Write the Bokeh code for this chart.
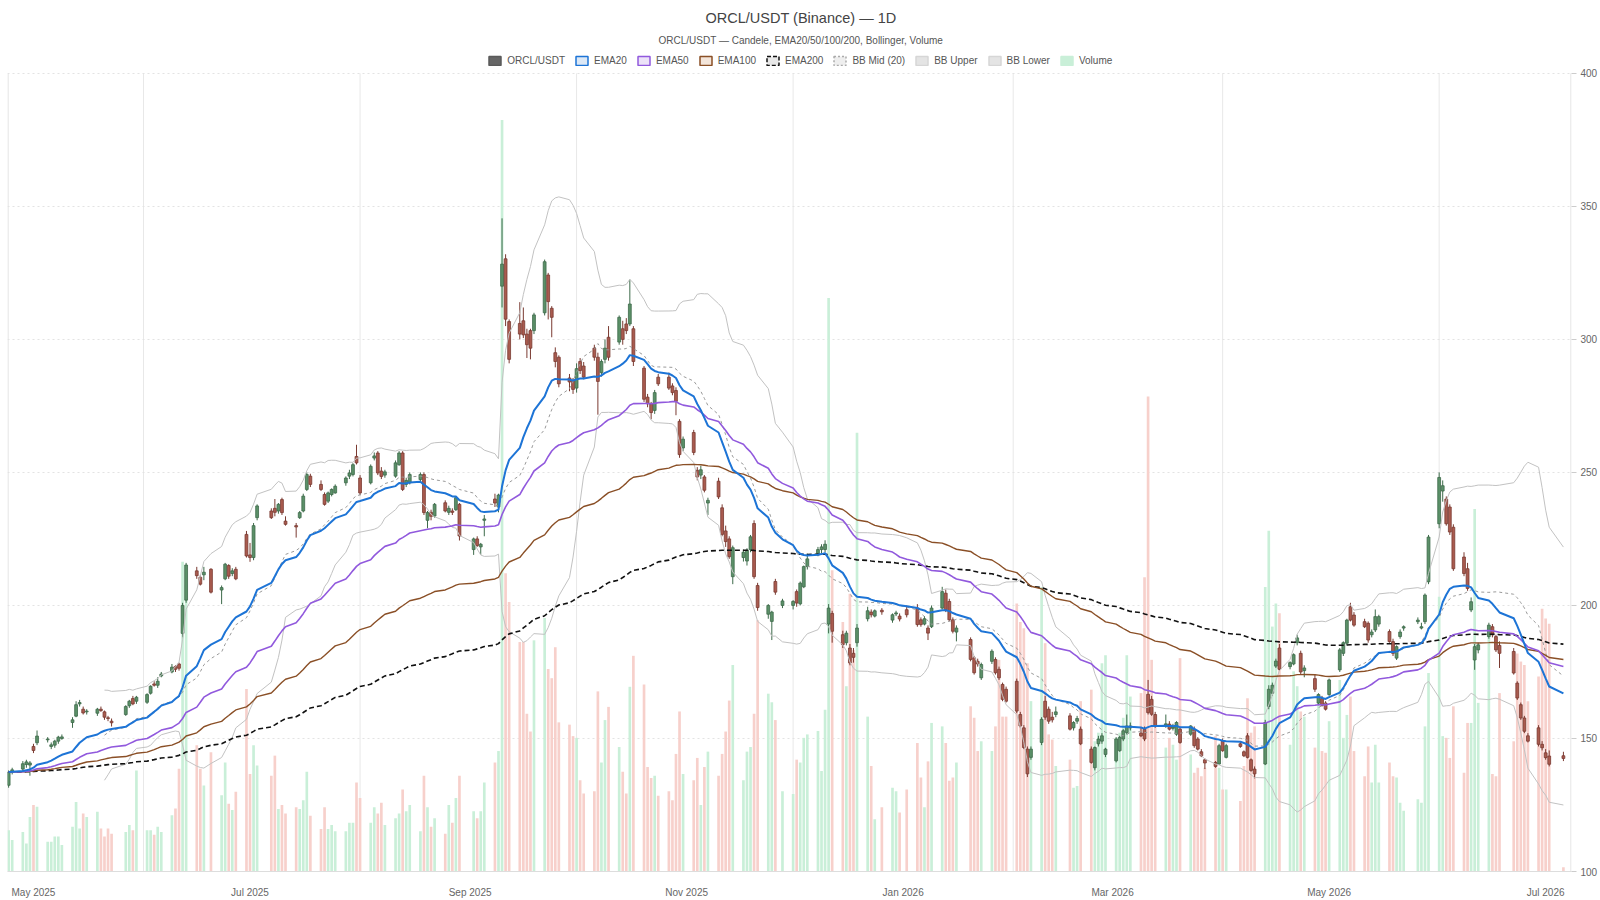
import numpy as np
import pandas as pd
from bokeh.plotting import figure
from bokeh.models import (Range1d, FixedTicker, ColumnDataSource, Legend, LegendItem,
                          Title, DatetimeTickFormatter)
from bokeh.embed import file_html
from bokeh.resources import INLINE

FONT = "Liberation Sans"
TITLE = "ORCL/USDT (Binance) — 1D"
SUBTITLE = "ORCL/USDT — Candele, EMA20/50/100/200, Bollinger, Volume"

FIRST_DAY = "2025-04-24"
LAST_DAY = "2026-07-06"
HOLIDAYS = ["2025-05-26", "2025-06-19", "2025-07-04", "2025-09-01", "2025-11-27",
            "2025-12-25", "2026-01-01", "2026-01-19", "2026-02-16", "2026-04-03",
            "2026-05-25", "2026-06-19", "2026-07-03"]

OPEN = [
    132.4, 137.4, 138.5, 140.2, 140.0,
    147.0, 148.4, 149.5, 147.0, 147.5, 149.0, 150.0, 156.0, 158.4, 163.0, 161.0, 160.0, 159.5, 161.0, 160.0, 157.8, 156.5, 159.0, 162.3, 165.0, 164.0,
    163.6, 167.0, 170.5, 170.0, 173.5, 175.0, 177.0, 178.0, 189.5, 202.0, 213.0, 210.6, 211.5, 213.6, 205.8, 210.0, 215.0, 212.0, 213.6, 226.7,
    219.0, 218.0, 233.0, 235.5, 236.5, 235.5, 239.8, 231.7, 230.0, 233.0, 235.5, 243.6, 248.6, 245.5, 241.7, 239.2, 241.7, 242.3, 246.1, 248.6, 249.2, 256.0,
    247.9, 246.1, 255.4, 257.3, 250.5, 249.0, 248.6, 252.9, 257.3, 245.5, 246.1, 247.3, 249.2, 232.0, 235.0, 233.6, 238.6, 235.0, 235.5, 236.0, 238.0,
    221.0, 225.0, 222.0, 232.0, 240.0, 237.0, 320.0, 330.3, 306.7, 306.0, 307.0, 302.0, 303.3, 303.3, 310.0, 324.2, 311.7, 295.0, 293.3, 285.5, 284.5,
    281.7, 291.7, 290.0, 296.7, 293.3, 287.5, 292.5, 300.8, 299.0, 304.0, 305.8, 305.8, 304.0, 289.2, 278.3, 275.8, 273.3, 285.8, 285.8, 282.5, 280.8, 269.2, 259.2,
    265.0, 250.8, 249.0, 248.3, 238.5, 246.7, 236.7, 228.0, 225.0, 210.8, 218.0, 216.7, 221.0, 230.8, 207.5, 196.7, 194.0, 209.0, 200.0,
    200.0, 205.2, 200.6, 207.0, 214.6, 219.5, 221.0, 221.0, 193.0, 197.0, 189.0, 186.0, 184.0, 182.0, 186.0, 195.0, 197.5, 196.0, 198.2, 194.5, 196.8, 196.0,
    198.4, 199.0, 194.6, 193.0, 191.5, 192.0, 199.0, 204.6, 201.5, 194.6, 190.0, 187.2, 180.3, 179.0, 172.8, 179.0, 179.7, 176.0, 170.3, 168.5,
    171.5, 159.0, 154.0, 146.0, 142.9, 148.5, 164.0, 161.0, 158.0, 159.0, 158.5, 154.0, 156.5, 153.5, 146.0, 139.0, 148.0, 149.0, 144.0,
    141.6, 145.4, 149.8, 152.2, 154.0, 152.0, 153.5, 166.6, 164.7, 159.0, 155.0, 155.4, 153.8, 151.6, 153.5, 151.6, 153.5, 149.8, 145.0, 142.0, 141.0, 140.4,
    149.0, 142.9, 148.0, 145.0, 151.0, 142.0, 138.5, 140.4, 162.0, 167.0, 177.2, 184.0, 177.0, 178.0, 186.0, 182.0, 175.5, 172.5, 163.3, 165.0, 163.3,
    166.5, 175.8, 182.0, 185.8, 199.5, 196.4, 193.9, 193.3, 189.0, 190.8, 193.0, 190.2, 186.4, 180.2, 188.3, 191.5, 193.9, 191.5, 193.9, 208.9,
    230.7, 243.0, 240.0, 237.0, 229.4, 218.2, 213.8, 198.3, 179.5, 183.3, 188.3, 192.0, 188.3, 185.0, 182.7, 170.8, 162.7, 157.7, 151.0, 154.0, 147.8,
    144.6, 143.4, 143.5,
]
CLOSE = [
    137.4, 138.2, 140.5, 141.2, 140.8,
    145.5, 150.9, 149.8, 147.6, 149.0, 150.5, 150.6, 157.0, 162.7, 163.5, 159.6, 160.3, 161.0, 160.5, 158.0, 157.5, 155.9, 162.0, 164.0, 163.0, 165.5,
    166.5, 169.6, 170.0, 171.5, 174.2, 176.8, 176.0, 176.4, 200.0, 215.2, 211.2, 208.0, 212.5, 205.0, 206.7, 215.5, 211.0, 213.0, 210.0, 218.6,
    218.0, 230.0, 237.4, 233.0, 235.0, 238.0, 234.9, 230.5, 229.5, 234.9, 241.1, 249.2, 245.5, 243.6, 238.0, 242.3, 243.6, 244.8, 247.9, 249.8, 252.9, 253.6,
    242.3, 252.3, 256.2, 249.8, 248.5, 250.2, 253.6, 257.3, 243.6, 247.0, 249.2, 249.2, 234.9, 234.9, 233.5, 238.0, 235.5, 236.5, 235.0, 240.5, 226.1,
    225.0, 222.5, 223.0, 232.5, 238.5, 241.5, 328.3, 307.6, 292.5, 302.0, 301.7, 298.0, 296.7, 309.2, 329.2, 314.2, 308.3, 291.7, 283.3, 284.0, 281.2,
    289.0, 288.3, 285.8, 293.3, 284.2, 291.7, 296.7, 293.3, 308.3, 300.0, 303.3, 313.3, 291.7, 277.5, 275.8, 272.5, 280.0, 283.3, 281.7, 280.0, 276.7, 256.7, 262.5,
    257.5, 248.3, 251.0, 243.3, 239.5, 240.8, 226.7, 224.0, 218.3, 221.7, 220.0, 220.8, 225.8, 210.8, 199.2, 200.0, 197.5, 205.0, 201.7,
    201.5, 200.9, 208.4, 214.6, 217.5, 221.0, 222.0, 223.0, 199.0, 190.3, 185.3, 189.6, 178.4, 180.5, 191.5, 198.0, 196.5, 198.0, 197.6, 196.5, 197.2, 194.9,
    196.5, 192.8, 192.8, 195.0, 189.6, 199.0, 205.2, 198.4, 194.6, 190.3, 191.5, 179.7, 174.7, 178.0, 177.8, 182.8, 174.7, 172.8, 164.7, 164.0,
    160.3, 154.7, 146.6, 136.7, 146.0, 157.2, 158.0, 156.5, 157.0, 160.0, 153.5, 156.0, 157.5, 148.0, 141.0, 146.6, 149.8, 151.0, 146.0,
    149.8, 150.4, 152.9, 154.7, 154.7, 151.0, 149.8, 159.7, 159.1, 154.7, 155.5, 153.5, 154.3, 156.0, 148.5, 154.7, 147.3, 146.0, 143.5, 140.8, 139.5, 147.3,
    145.4, 147.3, 147.0, 143.5, 142.9, 138.0, 136.7, 156.0, 168.5, 170.0, 179.1, 176.0, 178.5, 181.5, 187.8, 175.0, 176.5, 168.5, 166.5, 162.5, 161.0,
    172.0, 183.3, 186.0, 194.5, 194.5, 192.6, 192.0, 187.0, 190.0, 195.8, 195.8, 186.4, 182.0, 184.5, 190.0, 192.0, 194.5, 192.0, 203.9, 225.7,
    248.1, 245.0, 230.7, 227.6, 213.8, 212.0, 206.4, 201.4, 184.5, 185.2, 192.6, 189.0, 183.3, 182.0, 174.6, 165.2, 157.7, 152.7, 149.0, 147.8, 146.5,
    142.8, 140.3, 142.5,
]
HIGH = [
    138.0, 139.0, 141.5, 142.0, 141.5,
    148.0, 153.0, 150.5, 148.5, 149.5, 151.0, 151.5, 158.0, 164.0, 164.5, 162.0, 161.0, 161.5, 162.0, 160.5, 158.5, 157.5, 162.5, 164.5, 166.0, 166.0,
    167.0, 170.0, 171.5, 173.0, 175.0, 178.0, 177.5, 178.5, 201.0, 216.0, 214.5, 211.5, 214.5, 214.0, 207.5, 216.0, 215.5, 214.0, 214.5, 228.0,
    223.5, 231.0, 238.0, 236.5, 240.0, 238.5, 240.5, 233.5, 231.0, 235.5, 242.0, 250.0, 249.5, 247.0, 242.5, 242.8, 244.0, 245.5, 248.5, 251.0, 253.5, 260.4,
    249.0, 253.0, 257.5, 258.0, 252.0, 251.0, 254.5, 258.0, 258.0, 248.0, 250.0, 250.0, 250.0, 235.5, 236.0, 238.5, 239.5, 237.5, 236.5, 241.0, 238.5,
    225.5, 226.0, 223.5, 234.0, 242.0, 242.0, 345.5, 332.0, 307.5, 314.0, 312.0, 304.0, 304.0, 310.0, 330.0, 325.0, 312.5, 297.0, 294.0, 287.0, 285.5,
    291.0, 293.0, 291.5, 298.0, 295.0, 292.5, 300.0, 305.0, 309.0, 307.0, 308.0, 322.5, 305.0, 290.0, 279.5, 276.5, 281.0, 287.0, 287.5, 283.5, 282.0, 270.0, 263.5,
    266.0, 252.0, 252.5, 249.0, 240.5, 248.0, 238.0, 230.0, 226.0, 222.5, 221.0, 221.5, 226.5, 232.0, 208.5, 200.5, 198.0, 210.0, 202.5,
    202.0, 206.0, 209.0, 215.0, 219.5, 222.0, 223.0, 224.5, 200.5, 198.0, 190.5, 190.5, 185.5, 184.0, 193.0, 199.5, 198.5, 198.5, 199.0, 197.0, 198.0, 197.0,
    200.0, 200.5, 195.5, 196.0, 192.5, 200.0, 207.0, 206.0, 202.5, 195.5, 192.5, 188.0, 181.0, 180.0, 178.5, 183.5, 180.5, 177.0, 171.0, 169.5,
    172.5, 160.0, 155.0, 147.0, 147.0, 158.0, 166.0, 162.0, 160.0, 162.0, 159.5, 156.5, 158.5, 154.5, 147.0, 147.0, 151.0, 152.0, 146.5,
    150.5, 151.0, 153.5, 159.0, 156.0, 154.0, 154.5, 172.0, 166.0, 160.0, 159.0, 156.5, 155.5, 156.5, 154.0, 155.0, 154.5, 150.5, 146.0, 142.5, 141.5, 148.0,
    150.0, 148.0, 149.0, 145.5, 152.0, 142.5, 139.5, 157.0, 170.0, 171.0, 180.0, 185.5, 179.0, 182.0, 189.0, 183.0, 177.5, 174.0, 167.0, 166.0, 164.0,
    172.5, 184.0, 186.5, 195.0, 201.0, 197.5, 195.0, 194.0, 191.0, 198.5, 196.5, 191.0, 187.5, 185.0, 191.0, 192.5, 195.5, 193.5, 204.5, 226.5,
    250.0, 247.0, 241.0, 238.0, 230.5, 220.0, 216.0, 203.0, 185.5, 186.0, 193.5, 193.0, 189.0, 186.5, 184.0, 171.5, 163.5, 158.5, 152.0, 155.0, 149.0,
    146.0, 145.5, 145.0,
]
LOW = [
    131.5, 136.5, 137.5, 139.0, 136.0,
    144.5, 147.5, 148.5, 146.0, 146.5, 148.0, 149.5, 154.0, 158.0, 162.0, 159.0, 159.0, 158.5, 160.0, 157.0, 156.5, 154.5, 158.5, 161.5, 162.5, 163.0,
    163.0, 166.5, 169.5, 169.0, 173.0, 174.5, 175.0, 175.5, 188.0, 201.0, 210.0, 207.5, 209.5, 204.5, 200.5, 209.5, 210.0, 211.0, 209.5, 218.0,
    216.4, 217.0, 232.0, 232.5, 233.5, 234.5, 234.0, 230.0, 225.5, 232.5, 235.0, 243.0, 244.5, 243.0, 237.5, 238.5, 241.0, 242.0, 245.0, 247.5, 248.5, 253.0,
    241.5, 245.5, 254.5, 249.0, 247.5, 248.0, 248.0, 252.5, 243.0, 244.5, 245.5, 246.5, 234.0, 229.0, 232.0, 233.0, 235.0, 234.0, 234.0, 235.5, 224.4,
    219.0, 222.0, 219.0, 226.0, 237.0, 235.0, 312.0, 305.0, 291.0, 300.0, 300.5, 293.0, 292.5, 302.0, 309.0, 307.5, 300.8, 289.5, 282.0, 280.5, 279.5,
    280.0, 287.0, 285.0, 292.0, 271.7, 286.0, 291.0, 292.0, 298.0, 298.0, 302.0, 305.0, 290.0, 276.5, 274.5, 270.0, 272.0, 282.5, 281.0, 279.0, 271.5, 255.5, 258.0,
    256.5, 247.0, 247.5, 242.5, 234.0, 240.0, 226.0, 222.0, 217.5, 208.0, 216.5, 215.0, 220.0, 210.0, 198.0, 195.0, 187.0, 204.0, 199.0,
    198.5, 199.5, 200.0, 206.5, 213.5, 218.5, 219.5, 220.0, 189.5, 186.0, 184.0, 185.0, 177.5, 178.5, 184.5, 194.0, 195.5, 195.5, 196.5, 193.5, 196.0, 194.0,
    195.5, 192.0, 192.0, 192.5, 187.0, 191.5, 198.5, 197.5, 194.0, 189.5, 186.5, 179.0, 174.0, 177.0, 172.0, 178.0, 174.0, 172.0, 164.0, 163.5,
    159.5, 154.0, 146.0, 135.5, 142.0, 147.5, 157.0, 155.5, 156.0, 158.0, 153.0, 153.0, 155.5, 147.5, 140.5, 138.0, 147.0, 148.0, 143.0,
    141.0, 145.0, 149.0, 151.5, 153.0, 150.5, 149.0, 159.0, 158.5, 154.0, 154.0, 153.0, 153.0, 151.0, 148.0, 151.0, 146.5, 145.5, 143.0, 138.5, 139.0, 140.0,
    145.0, 142.5, 146.5, 143.0, 142.5, 137.5, 135.0, 140.0, 161.0, 166.0, 176.5, 175.5, 176.0, 177.5, 185.0, 174.0, 173.0, 167.5, 162.5, 162.0, 160.5,
    166.0, 175.0, 181.0, 185.0, 194.0, 192.0, 191.5, 186.0, 188.0, 190.0, 192.0, 186.0, 181.0, 179.5, 187.5, 190.5, 193.0, 191.0, 193.0, 208.0,
    229.0, 239.0, 230.0, 226.5, 213.0, 211.0, 205.5, 197.5, 175.8, 182.0, 187.5, 188.0, 182.5, 176.5, 174.0, 164.5, 157.0, 152.0, 148.5, 147.0, 145.5,
    142.0, 139.5, 141.5,
]
VOLUME = [
    7.2, 5.5, 6.9, 4.9, 9.5,
    11.6, 11.3, 5.2, 5.2, 6.1, 6.1, 4.6, 7.8, 12.1, 7.5, 10.1, 9.5, 10.4, 7.5, 6.1, 7.5, 6.6, 6.9, 8.1, 7.2, 17.6,
    7.2, 7.2, 6.4, 7.8, 6.9, 9.8, 11.0, 17.9, 54.0, 50.0, 22.0, 17.9, 15.0, 20.8, 13.3, 19.0, 11.8, 10.7, 13.9, 31.8,
    17.0, 22.0, 18.5, 16.7, 20.2, 10.9, 11.6, 10.1, 11.2, 10.9, 12.4, 17.4, 9.7, 7.4, 11.2, 7.4, 8.1, 7.0, 7.0, 8.5, 8.5, 15.5,
    12.8, 8.5, 11.2, 10.1, 12.0, 8.1, 9.3, 10.1, 14.3, 10.5, 11.6, 7.0, 16.7, 11.2, 7.8, 9.3, 6.6, 11.6, 8.5, 12.8, 16.7,
    10.5, 9.3, 10.5, 15.5, 19.0, 21.0, 131.0, 52.0, 47.0, 40.0, 40.0, 27.5, 24.4, 40.3, 44.2, 35.3, 33.7, 39.1, 26.0, 25.6, 23.6,
    23.3, 15.9, 13.6, 14.0, 31.4, 19.0, 26.4, 28.7, 21.7, 17.4, 13.6, 32.2, 37.6, 32.6, 18.2, 16.3, 16.7, 13.2, 14.0, 12.4, 20.5, 27.9, 17.0,
    15.9, 19.8, 11.6, 18.2, 20.9, 16.7, 20.5, 24.4, 29.8, 36.0, 15.9, 20.9, 21.7, 27.5, 43.8, 31.0, 29.5, 26.4, 14.0,
    13.5, 19.5, 19.0, 23.3, 23.9, 24.5, 17.5, 28.2, 100.0, 52.5, 43.5, 32.3, 48.4, 38.6, 76.5, 27.0, 18.4, 9.1, 11.2, 14.6, 14.0, 10.3,
    14.3, 22.4, 16.4, 11.2, 19.2, 25.9, 25.3, 22.4, 15.8, 16.4, 19.0, 28.8, 26.8, 21.0, 22.7, 21.0, 25.3, 36.9, 27.0, 27.0,
    46.7, 43.5, 42.4, 36.3, 29.7, 49.6, 39.8, 23.9, 23.0, 18.4, 19.5, 14.6, 14.9, 29.7, 31.7, 22.7, 24.2, 36.3, 37.7,
    23.3, 24.2, 26.8, 37.7, 30.5, 31.1, 51.3, 82.8, 36.9, 27.0, 21.6, 23.3, 22.1, 19.5, 37.2, 20.4, 17.2, 18.1, 16.6, 18.1, 23.6, 18.1,
    14.3, 14.3, 12.3, 18.4, 30.2, 24.2, 25.3, 49.6, 59.4, 42.7, 46.7, 45.0, 22.1, 34.9, 32.3, 27.9, 27.0, 21.6, 29.9, 21.0, 20.7,
    26.2, 33.4, 23.3, 27.3, 30.5, 21.0, 16.6, 21.8, 15.5, 22.1, 15.5, 19.0, 16.6, 16.4, 12.0, 10.6, 12.6, 12.0, 25.3, 34.6,
    47.9, 23.6, 23.3, 19.8, 28.8, 17.2, 25.9, 25.9, 63.2, 29.4, 41.5, 17.0, 16.6, 31.1, 22.7, 38.0, 36.6, 36.0, 29.7, 34.0, 45.8,
    44.1, 43.2, 0.75,
]

PRICE_MIN, PRICE_MAX = 100, 400
Y_TICKS = [100, 150, 200, 250, 300, 350, 400]
X_LABEL_MONTHS = ["2025-05-01", "2025-07-01", "2025-09-01", "2025-11-01",
                  "2026-01-01", "2026-03-01", "2026-05-01", "2026-07-01"]
X_GRID_MONTHS = ["2025-06-01", "2025-08-01", "2025-10-01", "2025-12-01",
                 "2026-02-01", "2026-04-01", "2026-06-01"]

# ---------------------------------------------------------------- derived
dates = pd.bdate_range(FIRST_DAY, LAST_DAY)
dates = dates[~dates.isin(pd.to_datetime(HOLIDAYS))]
n = len(dates)
assert all(len(a) == n for a in (OPEN, HIGH, LOW, CLOSE, VOLUME)), n

o = np.array(OPEN); c = np.array(CLOSE); h = np.array(HIGH); l = np.array(LOW)
close = pd.Series(c)
ema = {k: close.ewm(span=k, adjust=False).mean().values for k in (20, 50, 100, 200)}
mid = close.rolling(20).mean()
sd = close.rolling(20).std(ddof=0)
bb_up = (mid + 2 * sd).values
bb_lo = (mid - 2 * sd).values
mid = mid.values

up = c >= o
UP_FILL, UP_LINE = "#5b9068", "#3d6a4a"
DN_FILL, DN_LINE = "#a95b4f", "#7a3a31"
VOL_UP, VOL_DN = "#c9efd8", "#f7d0cb"

src = ColumnDataSource(dict(
    t=dates, o=o, h=h, l=l, c=c, v=np.array(VOLUME),
    top=np.maximum(o, c), bot=np.minimum(o, c),
    fill=np.where(up, UP_FILL, DN_FILL), line=np.where(up, UP_LINE, DN_LINE),
    vcol=np.where(up, VOL_UP, VOL_DN),
    e20=ema[20], e50=ema[50], e100=ema[100], e200=ema[200],
    mid=mid, bbu=bb_up, bbl=bb_lo,
))

# ---------------------------------------------------------------- layout
DAY = 86400000.0
ref = pd.Timestamp("2025-05-01")
x0 = ref - pd.Timedelta(days=7.32)
x1 = ref + pd.Timedelta(days=433.28)

W, H = 1600, 900
LEFT, RIGHT, BOTTOM = 7, 28, 24
FRAME_TOP = 47          # frame includes the legend strip
PRICE_TOP_PX = 73       # pixel row of the 400 line
frame_bottom = H - BOTTOM
px_per_unit = (frame_bottom - PRICE_TOP_PX) / (PRICE_MAX - PRICE_MIN)
y_top = PRICE_MAX + (PRICE_TOP_PX - FRAME_TOP) / px_per_unit
VOL_TOP_PX = 120
vol_top = max(VOLUME) * (frame_bottom - FRAME_TOP) / (frame_bottom - VOL_TOP_PX)

p = figure(width=W, height=H, x_axis_type="datetime",
           x_range=Range1d(x0, x1), y_range=Range1d(PRICE_MIN, y_top),
           y_axis_location="right", toolbar_location=None, output_backend="svg",
           title=None, min_border_left=LEFT, min_border_right=RIGHT,
           min_border_bottom=BOTTOM, min_border_top=FRAME_TOP,
           background_fill_color="white", border_fill_color="white")
p.outline_line_color = None
p.extra_y_ranges = {"vol": Range1d(0, vol_top)}

# grids
p.ygrid.ticker = FixedTicker(ticks=Y_TICKS)
p.ygrid.grid_line_color = "#e3e3e3"
p.ygrid.grid_line_dash = "2 3"
p.xgrid.visible = False
grid_t = pd.to_datetime(X_GRID_MONTHS)
g = p.segment(x0=grid_t, y0=PRICE_MIN, x1=grid_t, y1=PRICE_MAX,
              line_color="#e8e8e8", line_width=1)
g.level = "underlay"
edge = pd.Timedelta(days=0.15)
b = p.segment(x0=[x0 + edge, x1 - edge], y0=PRICE_MIN, x1=[x0 + edge, x1 - edge],
              y1=PRICE_MAX, line_color="#dedede", line_width=1)
b.level = "underlay"

# axes
xa = p.xaxis[0]
xa.ticker = FixedTicker(ticks=[pd.Timestamp(d).value / 1e6 for d in X_LABEL_MONTHS])
fmt = "%b %Y"
xa.formatter = DatetimeTickFormatter(days=fmt, months=fmt, years=fmt)
xa.major_tick_line_color = None
xa.minor_tick_line_color = None
xa.axis_line_color = "#dddddd"
xa.major_label_text_font = FONT
xa.major_label_text_font_size = "10px"
xa.major_label_text_color = "#666666"
xa.major_label_standoff = 9

ya = p.yaxis[0]
ya.ticker = FixedTicker(ticks=Y_TICKS)
ya.axis_line_color = None
ya.major_tick_line_color = "#cccccc"
ya.major_tick_out = 5
ya.major_tick_in = 0
ya.minor_tick_line_color = None
ya.major_label_text_font = FONT
ya.major_label_text_font_size = "10px"
ya.major_label_text_color = "#666666"
ya.major_label_standoff = 4

# volume
p.vbar(x="t", top="v", bottom=0, width=0.75 * DAY, source=src, y_range_name="vol",
       fill_color="vcol", line_color=None)

# candles
p.segment(x0="t", y0="l", x1="t", y1="h", source=src, line_color="line", line_width=1)
p.vbar(x="t", top="top", bottom="bot", width=0.8 * DAY, source=src,
       fill_color="fill", line_color="line", line_width=0.8)

# bollinger + EMAs
p.line("t", "bbu", source=src, line_color="#c2c2c2", line_width=1)
p.line("t", "bbl", source=src, line_color="#c2c2c2", line_width=1)
p.line("t", "mid", source=src, line_color="#9a9a9a", line_width=1, line_dash="3 3")
p.line("t", "e200", source=src, line_color="#111111", line_width=1.6, line_dash="5 3")
p.line("t", "e100", source=src, line_color="#8a4f26", line_width=1.4)
p.line("t", "e50", source=src, line_color="#9159dd", line_width=1.6)
p.line("t", "e20", source=src, line_color="#1d74d6", line_width=2)

# legend with box icons: one zero-size dummy quad each, outside the view
LEG = [
    ("ORCL/USDT", "#666666", "#5a5a5a", None),
    ("EMA20", "#dce8f6", "#1d74d6", None),
    ("EMA50", "#ece2f8", "#9159dd", None),
    ("EMA100", "#f3e5da", "#8a4f26", None),
    ("EMA200", "#e8e8e8", "#111111", "4 2"),
    ("BB Mid (20)", "#eeeeee", "#aaaaaa", "2 2"),
    ("BB Upper", "#e4e4e4", "#d6d6d6", None),
    ("BB Lower", "#e4e4e4", "#d6d6d6", None),
    ("Volume", "#c9efd8", "#c9efd8", None),
]
far = x0 - pd.Timedelta(days=60)
items = []
for lab, fc, lc, dash in LEG:
    kw = dict(fill_color=fc, line_color=lc, line_width=1.5)
    if dash:
        kw["line_dash"] = dash
    r = p.quad(left=[far], right=[far], top=[0], bottom=[0], **kw)
    items.append(LegendItem(label=lab, renderers=[r]))

LEG_CENTER_Y, LEG_H = 61.6, 18
legend = Legend(items=items, orientation="horizontal",
                location=(480.3, frame_bottom - (LEG_CENTER_Y + LEG_H / 2)),
                glyph_width=15, glyph_height=11, label_standoff=5, spacing=9,
                padding=3, margin=0, border_line_color=None,
                background_fill_alpha=0, label_text_font=FONT,
                label_text_font_size="10px", label_text_color="#555555")
p.add_layout(legend, "center")

sub = Title(text=SUBTITLE, align="left", offset=651, text_font=FONT,
            text_font_size="10px", text_font_style="normal",
            text_color="#555555", standoff=3)
p.add_layout(sub, "above")
tit = Title(text=TITLE, align="left", offset=698, text_font=FONT,
            text_font_size="14.5px", text_font_style="normal",
            text_color="#444444", standoff=11)
p.add_layout(tit, "above")

open("out.html", "w").write(file_html(p, INLINE))
